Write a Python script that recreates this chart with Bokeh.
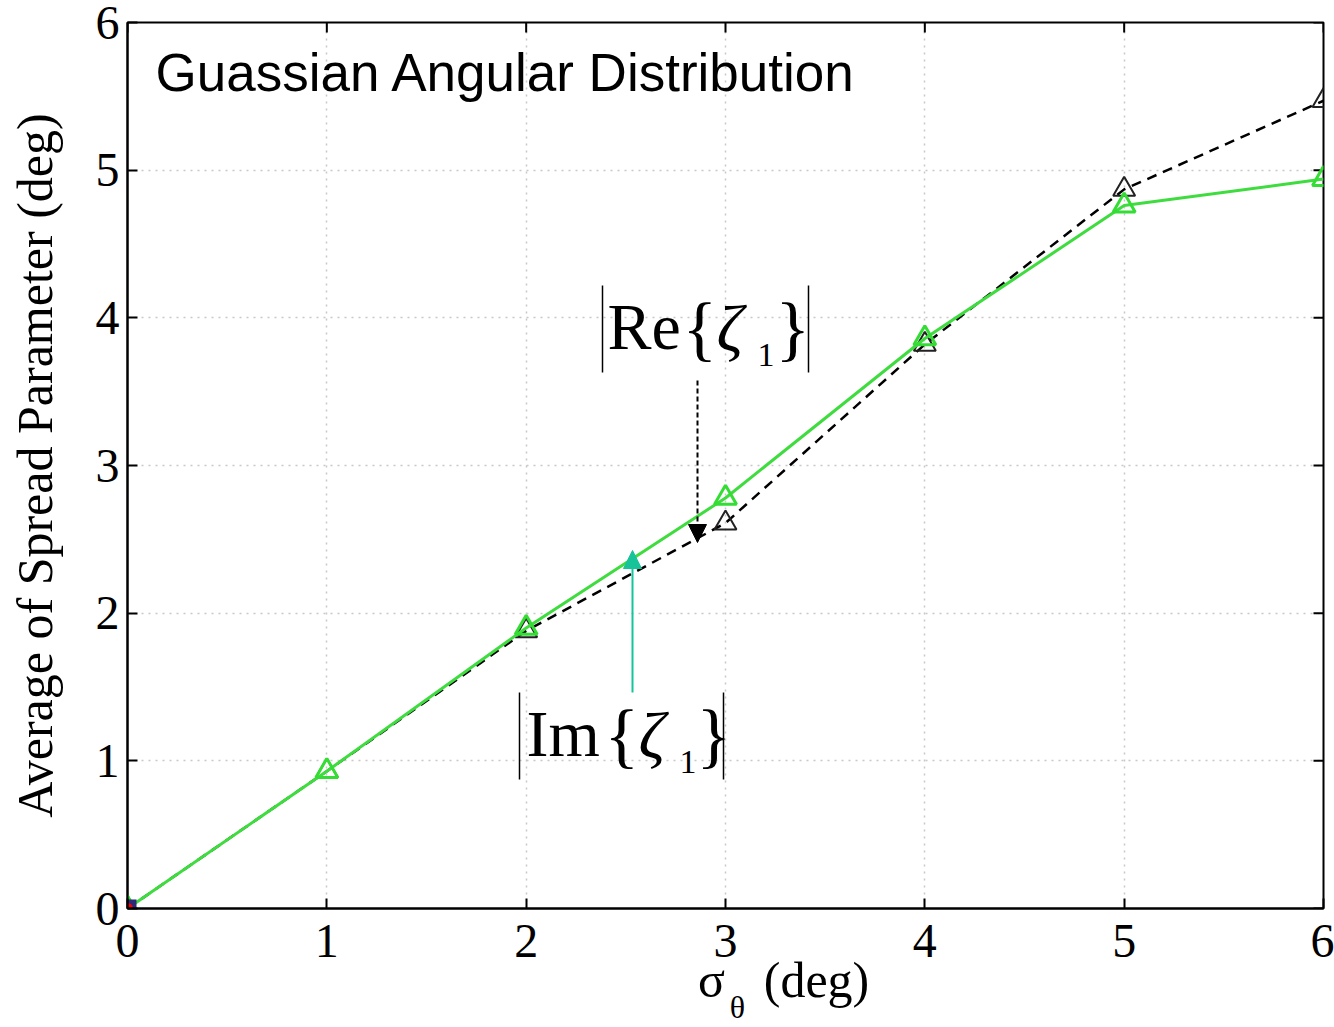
from bokeh.plotting import figure
from bokeh.models import Range1d, LinearAxis, Label, Arrow, NormalHead, FixedTicker
from bokeh.embed import file_html
from bokeh.resources import INLINE

# ---- data ----
sigma = [0, 1, 2, 3, 4, 5, 6]
re_vals = [0.0, 0.93, 1.88, 2.61, 3.82, 4.87, 5.47]
im_vals = [0.0, 0.93, 1.90, 2.78, 3.86, 4.76, 4.94]
ticks = [0, 1, 2, 3, 4, 5, 6]
title_text = "Guassian Angular Distribution"
ylabel = "Average of Spread Parameter (deg)"
xlabel_main = "σ"
xlabel_sub = "θ"
xlabel_unit = "(deg)"

W, H = 1334, 1027
L, R, T, B = 127, 11, 22, 119
FW, FH = W - L - R, H - T - B

def X(px):
    return (px - L) / (FW / 6.0)

def Y(py):
    return (T + FH - py) / (FH / 6.0)

p = figure(width=W, height=H, x_range=Range1d(0, 6), y_range=Range1d(0, 6),
           output_backend="svg", toolbar_location=None,
           min_border_left=L, min_border_right=R, min_border_top=T, min_border_bottom=B)
p.background_fill_color = "white"
p.border_fill_color = "white"
p.outline_line_color = "black"
p.outline_line_width = 2

serif = "Liberation Serif"
for ax in (p.xaxis[0], p.yaxis[0]):
    ax.ticker = FixedTicker(ticks=ticks)
    ax.major_tick_in = 10
    ax.major_tick_out = 0
    ax.minor_tick_line_color = None
    ax.axis_line_width = 2
    ax.axis_line_color = "black"
    ax.major_tick_line_width = 2
    ax.major_label_text_font = serif
    ax.major_label_text_font_size = "48px"
    ax.major_label_text_color = "black"

p.xaxis[0].major_label_standoff = 16
p.yaxis[0].major_label_standoff = 8
p.yaxis[0].axis_label = ylabel
p.yaxis[0].axis_label_text_font = serif
p.yaxis[0].axis_label_text_font_size = "50px"
p.yaxis[0].axis_label_text_font_style = "normal"
p.yaxis[0].axis_label_text_color = "black"
p.yaxis[0].axis_label_standoff = 30

# x-axis label built from two extra label-only axes (sigma, (deg)) and subscript theta
pos_sigma, pos_unit, pos_sub = round(X(711), 4), round(X(816), 4), round(X(737), 4)
axB = LinearAxis(ticker=FixedTicker(ticks=[pos_sigma, pos_unit]),
                 major_label_overrides={pos_sigma: xlabel_main, pos_unit: xlabel_unit},
                 axis_line_color=None, major_tick_line_color=None, minor_tick_line_color=None,
                 major_tick_in=0, major_tick_out=0,
                 major_label_text_font=serif, major_label_text_font_size="50px",
                 major_label_text_color="black", major_label_standoff=-8)
p.add_layout(axB, "below")
axC = LinearAxis(ticker=FixedTicker(ticks=[pos_sub]),
                 major_label_overrides={pos_sub: xlabel_sub},
                 axis_line_color=None, major_tick_line_color=None, minor_tick_line_color=None,
                 major_tick_in=0, major_tick_out=0,
                 major_label_text_font=serif, major_label_text_font_size="32px",
                 major_label_text_color="black", major_label_standoff=-22)
p.add_layout(axC, "below")

p.grid.ticker = FixedTicker(ticks=ticks)
p.grid.grid_line_color = "#c8c8c8"
p.grid.grid_line_dash = "2 5"
p.grid.grid_line_width = 1.5

# inward ticks on top and right edges (half of a centred dash is visible)
p.scatter(ticks, [6] * len(ticks), marker="dash", angle=1.5708, size=20,
          line_color="black", line_width=2)
p.scatter([6] * len(ticks), ticks, marker="dash", size=20, line_color="black", line_width=2)

# series
p.line(sigma, re_vals, line_color="black", line_dash="10 7", line_width=2.5)
p.scatter(sigma, re_vals, marker="triangle", size=22, fill_color=None,
          line_color="#222222", line_width=2)
p.line(sigma, im_vals, line_color="#3fdc3f", line_width=3)
p.scatter(sigma, im_vals, marker="triangle", size=22, fill_color=None,
          line_color="#33dd33", line_width=3)
p.scatter([sigma[0]], [re_vals[0]], marker="square", size=18, fill_color="#2b2b7a", line_color=None)
p.scatter([sigma[0]], [im_vals[0]], marker="circle", size=11, fill_color="red", line_color=None)

# title inside plot
p.add_layout(Label(x=X(155), y=Y(72), text=title_text, text_font="Liberation Sans",
                   text_font_size="53px", text_color="black", text_baseline="alphabetic"))

def big(txt, px, py, size=66, style="normal"):
    p.add_layout(Label(x=X(px), y=Y(py - 0.37 * size), text=txt, text_font=serif,
                       text_font_size=f"{size}px", text_font_style=style,
                       text_color="black", text_baseline="alphabetic"))

# |Re{zeta_1}|
big("Re", 607, 350)
big("{", 682, 354, size=72)
big("ζ", 716, 352, style="italic")
big("1", 757, 367, size=34)
big("}", 775, 354, size=72)
p.segment(x0=[X(602), X(808)], y0=[Y(285), Y(285)], x1=[X(602), X(808)], y1=[Y(372), Y(372)],
          line_color="black", line_width=1.5)

# |Im{zeta_1}|
big("Im", 526, 757)
big("{", 604, 761, size=72)
big("ζ", 638, 759, style="italic")
big("1", 679, 774, size=34)
big("}", 696, 761, size=72)
p.segment(x0=[X(519), X(723)], y0=[Y(692), Y(692)], x1=[X(519), X(723)], y1=[Y(779), Y(779)],
          line_color="black", line_width=1.5)

# arrows
p.add_layout(Arrow(end=NormalHead(size=18, fill_color="black", line_color="black"),
                   x_start=X(697), y_start=Y(380), x_end=X(697), y_end=Y(542),
                   line_color="black", line_width=2, line_dash="5 3"))
p.add_layout(Arrow(end=NormalHead(size=18, fill_color="#17c49a", line_color="#17c49a"),
                   x_start=X(632), y_start=Y(692), x_end=X(632), y_end=Y(550),
                   line_color="#17c49a", line_width=2))

open("out.html", "w").write(file_html(p, INLINE))
